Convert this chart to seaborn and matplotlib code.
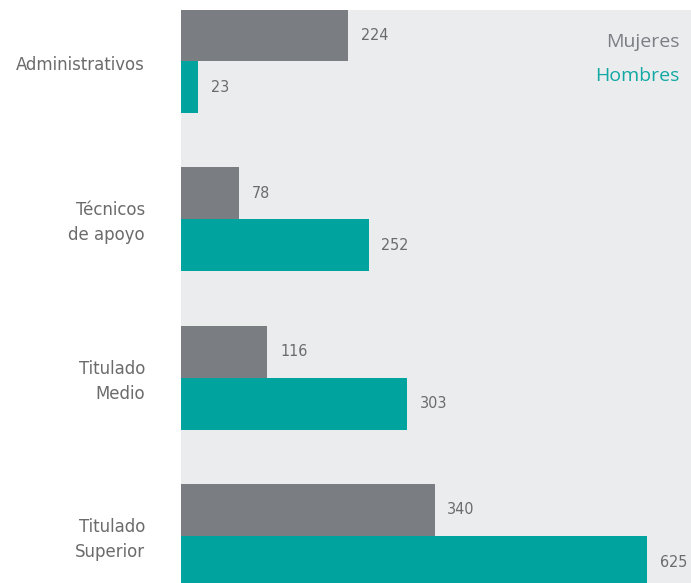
import matplotlib
matplotlib.use("Agg")
import matplotlib.pyplot as plt
import seaborn as sns
import pandas as pd

categorias = ["Administrativos", "Técnicos\nde apoyo", "Titulado\nMedio", "Titulado\nSuperior"]
mujeres = [224, 78, 116, 340]
hombres = [23, 252, 303, 625]
series = ["Mujeres", "Hombres"]

GRIS = "#7a7e83"
TEAL = "#00a39d"
FONDO = "#ebecee"
TEXTO = "#6b6b6b"

df = pd.DataFrame({
    "categoria": categorias * 2,
    "serie": [series[0]] * len(categorias) + [series[1]] * len(categorias),
    "valor": mujeres + hombres,
})

sns.set_theme(style="white")
plt.rcParams["font.family"] = ["DejaVu Sans"]

fig = plt.figure(figsize=(6.91, 5.83), dpi=100)
ax = fig.add_axes([181 / 691, 0, 1 - 181 / 691, 573 / 583])
ax.set_facecolor(FONDO)

sns.barplot(data=df, y="categoria", x="valor", hue="serie", orient="h",
            palette=[GRIS, TEAL], width=0.658, saturation=1, ax=ax,
            legend=False, errorbar=None, linewidth=0, edgecolor="none")

for cont in ax.containers:
    ax.bar_label(cont, padding=9, color=TEXTO, fontsize=11.5,
                 fontstretch="condensed", family="DejaVu Sans")

ax.set_xlim(0, 684)
ax.set_ylim(3.297, -0.323)
ax.set_xlabel("")
ax.set_ylabel("")
ax.set_xticks([])
ax.set_yticks([])
for s in ax.spines.values():
    s.set_visible(False)

for i, cat in enumerate(categorias):
    ax.annotate(cat, xy=(0, i), xytext=(-26, -2.5), textcoords="offset points",
                ha="right", va="center", color=TEXTO, fontsize=13.2,
                fontstretch="condensed", linespacing=1.5)

ax.text(0.978, 0.945, series[0], transform=ax.transAxes, ha="right",
        va="center", color=GRIS, fontsize=14, family="Open Sans")
ax.text(0.978, 0.885, series[1], transform=ax.transAxes, ha="right",
        va="center", color="#12a8a3", fontsize=14, family="Open Sans")

fig.savefig("out.png", dpi=100)
